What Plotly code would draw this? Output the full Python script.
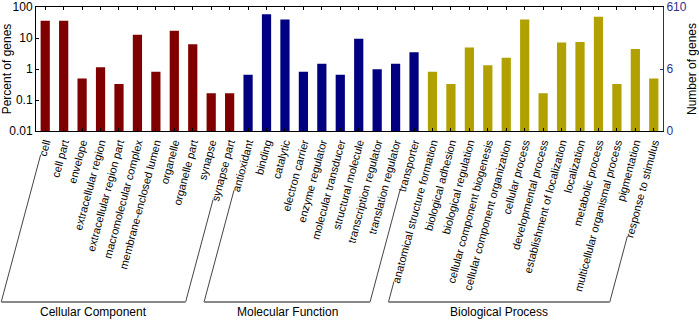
import math
import plotly.graph_objects as go

TOTAL_GENES = 610

groups = ["Cellular Component", "Molecular Function", "Biological Process"]
group_colors = ["#800000", "#000080", "#B0A000"]

cc_terms = ["cell", "cell part", "envelope", "extracellular region", "extracellular region part",
            "macromolecular complex", "membrane-enclosed lumen", "organelle", "organelle part",
            "synapse", "synapse part"]
cc_genes = [220, 220, 3, 7, 2, 78, 5, 105, 38, 1, 1]

mf_terms = ["antioxidant", "binding", "catalytic", "electron carrier", "enzyme regulator",
            "molecular transducer", "structural molecule", "transcription regulator",
            "translation regulator", "transporter"]
mf_genes = [4, 355, 240, 5, 9, 4, 58, 6, 9, 21]

bp_terms = ["anatomical structure formation", "biological adhesion", "biological regulation",
            "cellular component biogenesis", "cellular component organization", "cellular process",
            "developmental process", "establishment of localization", "localization",
            "metabolic process", "multicellular organismal process", "pigmentation",
            "response to stimulus"]
bp_genes = [5, 2, 30, 8, 14, 240, 1, 44, 45, 297, 2, 27, 3]

left_ticks = [0.01, 0.1, 1, 10, 100]
left_ticktext = ["0.01", "0.1", "1", "10", "100"]
right_ticks = [0.01, 1, 100]
right_ticktext = ["0", "6", "610"]

# layout geometry (px)
W, H = 699, 320
ML, MR, MT, MB = 36, 36, 7, 189
PW, PH = W - ML - MR, H - MT - MB
LABEL_SIZE = 11
ANGLE = 75
BRACKET_Y = 302
TITLE_Y = 312

# rough Arial advance widths (1/1000 em) for label length estimate
char_w = dict(zip("abcdefghijklmnopqrstuvwxyz",
                  [556, 556, 500, 556, 556, 278, 556, 556, 222, 222, 500, 222, 833,
                   556, 556, 556, 556, 333, 500, 278, 556, 500, 722, 500, 500, 500]))
char_w[" "] = 278
char_w["-"] = 333


def text_len(s):
    return sum(char_w.get(c, 556) for c in s) * LABEL_SIZE / 1000


all_terms = cc_terms + mf_terms + bp_terms
group_terms = [cc_terms, mf_terms, bp_terms]
group_genes = [cc_genes, mf_genes, bp_genes]
n = len(all_terms)
step = PW / n

fig = go.Figure()
start = 0
for name, terms, genes, color in zip(groups, group_terms, group_genes, group_colors):
    fig.add_trace(go.Bar(
        x=list(range(start, start + len(terms))),
        y=[g / TOTAL_GENES * 100 for g in genes],
        marker=dict(color=color, line=dict(width=0)),
        name=name,
        showlegend=False,
    ))
    start += len(terms)

# invisible trace for the right-hand axis
fig.add_trace(go.Scatter(x=[0], y=[1], yaxis="y2", mode="markers",
                         marker=dict(opacity=0), showlegend=False, hoverinfo="skip"))

ca, sa = math.cos(math.radians(ANGLE)), math.sin(math.radians(ANGLE))


def to_x(px):
    return (px - ML) / PW


def to_y(py):
    return -(py - (MT + PH)) / PH


# group brackets: extend first/last label of each group down to a common line
shapes = []
annotations = []
start = 0
for name, terms in zip(groups, group_terms):
    ends = []
    for idx in (start, start + len(terms) - 1):
        tx = ML + (idx + 0.5) * step
        L = text_len(all_terms[idx]) + 5
        x0, y0 = tx - L * ca + 1, MT + PH + 3 + L * sa
        x1 = x0 - (BRACKET_Y - y0) / sa * ca
        shapes.append(dict(type="line", xref="paper", yref="paper",
                           x0=to_x(x0), y0=to_y(y0), x1=to_x(x1), y1=to_y(BRACKET_Y),
                           line=dict(color="#444444", width=1)))
        ends.append(x1)
    shapes.append(dict(type="line", xref="paper", yref="paper",
                       x0=to_x(ends[0]), y0=to_y(BRACKET_Y), x1=to_x(ends[1]), y1=to_y(BRACKET_Y),
                       line=dict(color="#888888", width=2)))
    annotations.append(dict(text=name, xref="paper", yref="paper", x=to_x((ends[0] + ends[1]) / 2),
                            y=to_y(TITLE_Y), xanchor="center", yanchor="middle",
                            showarrow=False, font=dict(size=12, color="#000000")))
    start += len(terms)

fig.update_layout(
    width=W, height=H,
    margin=dict(l=ML, r=MR, t=MT, b=MB, autoexpand=False),
    plot_bgcolor="white", paper_bgcolor="white",
    font=dict(family="Liberation Sans, Arial, sans-serif", color="#000000"),
    bargap=0.5,
    shapes=shapes,
    annotations=annotations,
    xaxis=dict(
        range=[-0.5, n - 0.5], automargin=False,
        tickvals=list(range(n)), ticktext=all_terms, tickangle=-ANGLE,
        tickfont=dict(size=LABEL_SIZE),
        ticks="inside", ticklen=3, tickcolor="#000000",
        showline=True, linecolor="#000000", linewidth=1, mirror="ticks",
        showgrid=False, zeroline=False,
    ),
    yaxis=dict(
        type="log", range=[-2, 2], automargin=False,
        tickvals=left_ticks, ticktext=left_ticktext, tickfont=dict(size=12),
        ticks="inside", ticklen=3, tickcolor="#000000",
        showline=True, linecolor="#000000", linewidth=1,
        showgrid=False, zeroline=False,
        title=dict(text="Percent of genes", font=dict(size=12), standoff=4),
    ),
    yaxis2=dict(
        type="log", range=[-2, 2], overlaying="y", side="right", automargin=False,
        tickvals=right_ticks, ticktext=right_ticktext,
        tickfont=dict(size=12, color="#2E2E8C"),
        ticks="inside", ticklen=3, tickcolor="#2E2E8C",
        showline=True, linecolor="#333333", linewidth=1,
        showgrid=False, zeroline=False,
        title=dict(text="Number of genes", font=dict(size=12, color="#000000"), standoff=6),
    ),
)

fig.write_html("out.html", config={"displayModeBar": False},
               post_script="document.body.style.margin='0';")
